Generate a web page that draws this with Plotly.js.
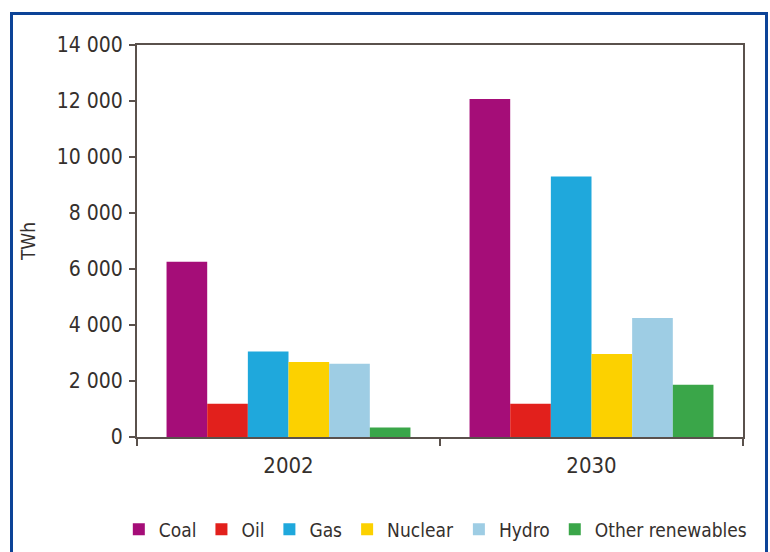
<!DOCTYPE html>
<html>
<head>
<meta charset="utf-8">
<script src="https://cdn.plot.ly/plotly-3.0.1.min.js"></script>
<style>
  html, body { margin: 0; padding: 0; background: #ffffff; }
  #wrap { position: relative; width: 770px; height: 552px; overflow: hidden; }
  #chart { position: absolute; left: 0; top: 0; width: 770px; height: 552px; }
  #frame {
    position: absolute; left: 10px; top: 12px; width: 752px; height: 560px;
    border: 3px solid #0c4397; pointer-events: none;
  }
</style>
</head>
<body>
<div id="wrap">
  <div id="chart"></div>
  <div id="frame"></div>
</div>
<script>
// Electricity generation by source, TWh
const years = ['2002', '2030'];
const sources = ['Coal', 'Oil', 'Gas', 'Nuclear', 'Hydro', 'Other renewables'];
const coal = [6260, 12070];
const oil = [1190, 1190];
const gas = [3050, 9300];
const nuclear = [2680, 2960];
const hydro = [2620, 4250];
const otherRenewables = [340, 1870];
const yTicks = [0, 2000, 4000, 6000, 8000, 10000, 12000, 14000];

const seriesValues = [coal, oil, gas, nuclear, hydro, otherRenewables];
const colours = ['#a50d78', '#e2201c', '#1fa8dc', '#fcd100', '#9ecde4', '#3aa649'];

const FONT = '"DejaVu Sans Condensed", "Liberation Sans Narrow", sans-serif';
const INK = '#35302d';
const AXIS = '#5a514c';

const traces = sources.map((name, i) => ({
  type: 'bar',
  name: name,
  x: years,
  y: seriesValues[i],
  marker: { color: colours[i], line: { width: 0 } },
  hoverinfo: 'x+y+name'
}));

const layout = {
  width: 770,
  height: 552,
  paper_bgcolor: '#ffffff',
  plot_bgcolor: '#ffffff',
  margin: { l: 137, r: 27, t: 45, b: 115, autoexpand: false },
  barmode: 'group',
  bargap: 0.195,
  bargroupgap: 0,
  separators: '. ',
  font: { family: FONT, color: INK, size: 19 },
  xaxis: {
    type: 'category',
    showline: true,
    linecolor: AXIS,
    linewidth: 2,
    mirror: true,
    ticks: 'outside',
    tickson: 'boundaries',
    ticklen: 7,
    tickwidth: 2,
    tickcolor: AXIS,
    showgrid: false,
    zeroline: false,
    ticklabelstandoff: 8,
    tickfont: { family: FONT, size: 22, color: INK }
  },
  yaxis: {
    range: [0, 14000],
    tickvals: yTicks,
    tickformat: ',d',
    separatethousands: true,
    showline: true,
    linecolor: AXIS,
    linewidth: 2,
    mirror: true,
    ticks: 'outside',
    ticklen: 6,
    tickwidth: 2,
    tickcolor: AXIS,
    showgrid: false,
    zeroline: false,
    ticklabelstandoff: 2,
    tickfont: { family: FONT, size: 21, color: INK },
    title: { text: 'TWh', font: { family: FONT, size: 19, color: INK }, standoff: 16 }
  },
  legend: {
    orientation: 'h',
    x: -0.03,
    xanchor: 'left',
    y: -0.236,
    yanchor: 'middle',
    font: { family: FONT, size: 19, color: INK },
    bgcolor: 'rgba(0,0,0,0)',
    traceorder: 'normal'
  },
  showlegend: true
};

Plotly.newPlot('chart', traces, layout, { displayModeBar: false, staticPlot: true });
</script>
</body>
</html>
